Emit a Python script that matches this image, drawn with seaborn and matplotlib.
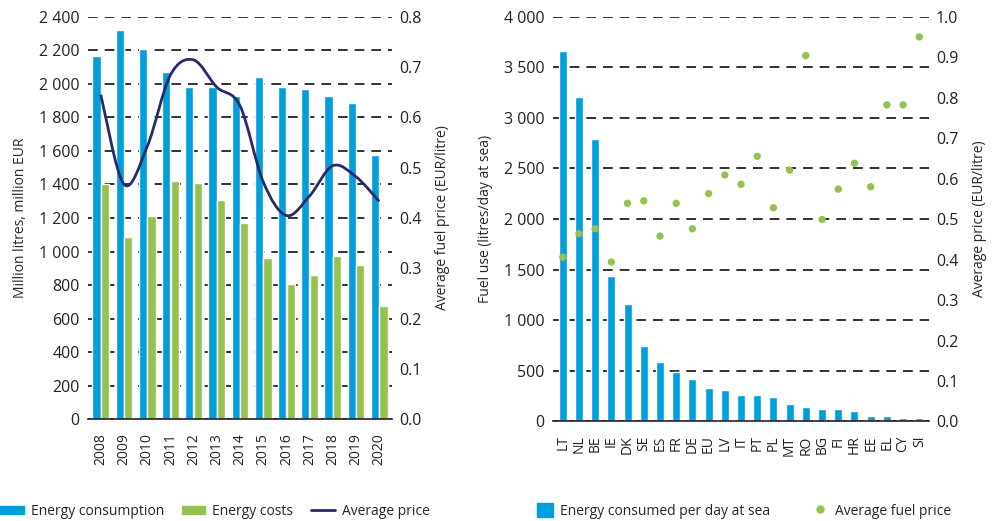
import numpy as np
import pandas as pd
import matplotlib
matplotlib.use("Agg")
import matplotlib.pyplot as plt
from matplotlib.path import Path
from matplotlib.patches import PathPatch, Patch
from matplotlib.lines import Line2D
from matplotlib.ticker import FuncFormatter, MultipleLocator
import seaborn as sns

# left chart data
years = [str(y) for y in range(2008, 2021)]
consumption = [2165, 2320, 2205, 2070, 1980, 1980, 1930, 2040, 1980, 1970, 1930, 1885, 1575]
costs = [1400, 1087, 1212, 1421, 1409, 1307, 1170, 962, 807, 860, 974, 920, 676]
avg_price = [0.645, 0.467, 0.542, 0.684, 0.714, 0.660, 0.623, 0.472, 0.405, 0.444, 0.504, 0.482, 0.433]

# right chart data
countries = ["LT", "NL", "BE", "IE", "DK", "SE", "ES", "FR", "DE", "EU", "LV", "IT",
             "PT", "PL", "MT", "RO", "BG", "FI", "HR", "EE", "EL", "CY", "SI"]
fuel_per_day = [3660, 3205, 2790, 1440, 1160, 747, 589, 490, 421, 332, 313, 263,
                263, 244, 174, 145, 125, 125, 105, 56, 56, 36, 36]
fuel_price = [0.406, 0.464, 0.476, 0.394, 0.539, 0.545, 0.458, 0.539, 0.476, 0.563, 0.609, 0.586,
              0.655, 0.528, 0.621, 0.904, 0.499, 0.574, 0.638, 0.580, 0.782, 0.782, 0.950]

BLUE = "#009FDB"
GREEN = "#95C24E"
NAVY = "#272A6B"
GRID = "#222222"

sns.set_style("white")
plt.rcParams['font.family'] = ['Open Sans', 'DejaVu Sans']
plt.rcParams['lines.dashed_pattern'] = [7, 5]
plt.rcParams['lines.scale_dashes'] = False

fig = plt.figure(figsize=(10, 5.21), dpi=100)
ax1 = fig.add_axes([0.088, 0.195, 0.304, 0.773])
ax2 = fig.add_axes([0.553, 0.191, 0.376, 0.777])

thou = FuncFormatter(lambda v, p: f"{int(v):,}".replace(",", " "))


def style_axes(ax, axr, ymax, ystep, rmax, rstep):
    ax.set_ylim(0, ymax)
    ax.yaxis.set_major_locator(MultipleLocator(ystep))
    ax.yaxis.set_major_formatter(thou)
    axr.set_ylim(0, rmax)
    axr.yaxis.set_major_locator(MultipleLocator(rstep))
    axr.yaxis.set_major_formatter(FuncFormatter(lambda v, p: f"{v:.1f}"))
    for a in (ax, axr):
        for s in a.spines.values():
            s.set_visible(False)
        a.tick_params(length=0)
    ax.spines["bottom"].set_visible(True)
    ax.spines["bottom"].set_color(GRID)
    ax.spines["bottom"].set_linewidth(1.2)
    ax.tick_params(axis="y", labelsize=11.5, pad=6, colors=GRID)
    axr.tick_params(axis="y", labelsize=11.5, pad=5, colors=GRID)
    ax.tick_params(axis="x", labelsize=10, pad=10, rotation=90, colors=GRID)
    ax.set_xlabel("")
    ax.set_axisbelow(True)
    ax.yaxis.grid(True, linestyle="--", color=GRID, linewidth=1.3)


# left chart
df1 = pd.DataFrame({
    "year": years * 2,
    "value": consumption + costs,
    "series": ["Energy consumption"] * len(years) + ["Energy costs"] * len(years),
})
sns.barplot(data=df1, x="year", y="value", hue="series", palette=[BLUE, GREEN],
            width=0.74, gap=0.05, ax=ax1, legend=False, saturation=1)
ax1.set_xlim(-0.55, len(years) - 0.45)
ax1r = ax1.twinx()
style_axes(ax1, ax1r, 2400, 200, 0.8, 0.1)
ax1.set_ylabel("Million litres, million EUR", fontsize=10, labelpad=8)
ax1r.set_ylabel("Average fuel price (EUR/litre)", fontsize=10, labelpad=10)

# smooth line through price points (Catmull-Rom as Bezier)
pts = np.column_stack([np.arange(len(avg_price)), avg_price])
verts = [pts[0]]
codes = [Path.MOVETO]
for i in range(len(pts) - 1):
    p0 = pts[max(i - 1, 0)]
    p1 = pts[i]
    p2 = pts[i + 1]
    p3 = pts[min(i + 2, len(pts) - 1)]
    verts += [p1 + (p2 - p0) / 6, p2 - (p3 - p1) / 6, p2]
    codes += [Path.CURVE4] * 3
ax1r.add_patch(PathPatch(Path(verts, codes), facecolor="none", edgecolor=NAVY, lw=2.0))

# right chart
df2 = pd.DataFrame({"country": countries, "fuel": fuel_per_day, "price": fuel_price})
sns.barplot(data=df2, x="country", y="fuel", color=BLUE, width=0.49, ax=ax2, saturation=1)
ax2.set_xlim(-0.6, len(countries) - 0.4)
ax2r = ax2.twinx()
sns.scatterplot(data=df2, x="country", y="price", color=GREEN, s=28, edgecolor="none", ax=ax2r)
style_axes(ax2, ax2r, 4000, 500, 1.0, 0.1)
ax2r.set_xlim(-0.6, len(countries) - 0.4)
ax2.set_ylabel("Fuel use (litres/day at sea)", fontsize=10, labelpad=8)
ax2r.set_ylabel("Average price (EUR/litre)", fontsize=10, labelpad=10)

# legends
h1 = [Patch(color=BLUE), Patch(color=GREEN), Line2D([], [], color=NAVY, lw=2.0)]
fig.legend(h1, ["Energy consumption", "Energy costs", "Average price"], ncol=3,
           loc="center left", bbox_to_anchor=(0.0, 0.019), frameon=False, fontsize=10,
           handlelength=1.7, handleheight=0.5, handletextpad=0.5, columnspacing=1.3,
           borderaxespad=0, borderpad=0)
h2 = [Patch(color=BLUE), Line2D([], [], marker="o", ls="", color=GREEN, markersize=5)]
fig.legend(h2, ["Energy consumed per day at sea", "Average fuel price"], ncol=2,
           loc="center left", bbox_to_anchor=(0.537, 0.019), frameon=False, fontsize=10,
           handlelength=1.15, handleheight=1.1, handletextpad=0.5, columnspacing=3.0,
           borderaxespad=0, borderpad=0)

fig.savefig("out.png", dpi=100)
